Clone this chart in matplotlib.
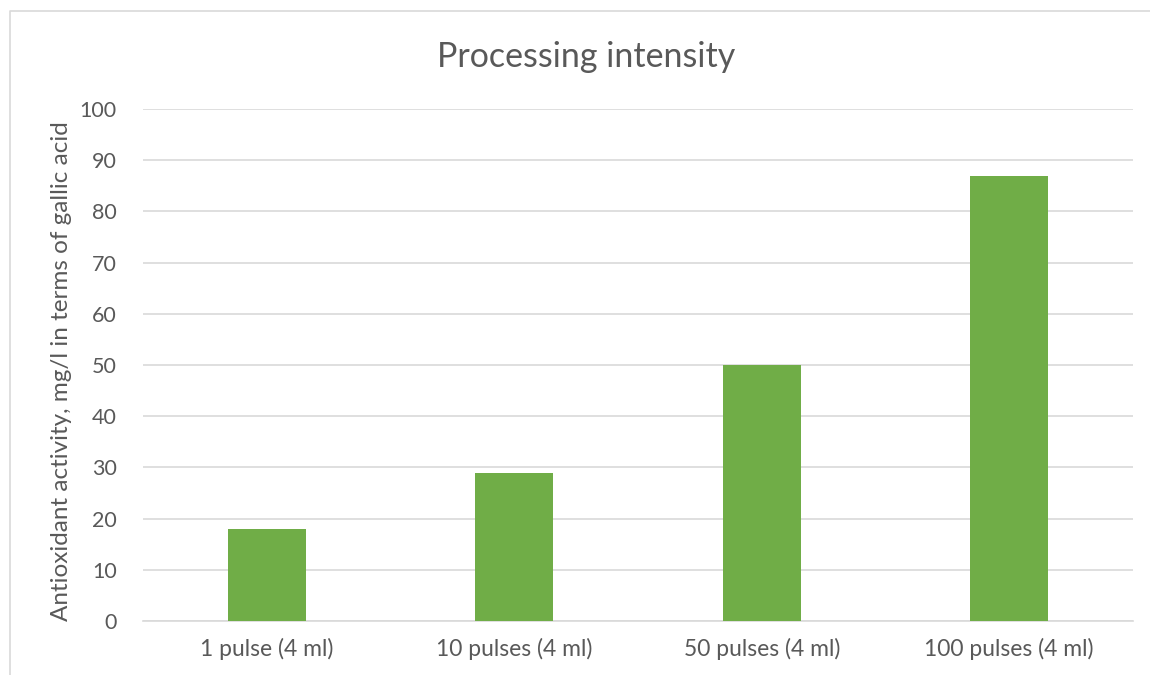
import matplotlib.pyplot as plt
from matplotlib.lines import Line2D

categories = ["1 pulse (4 ml)", "10 pulses (4 ml)", "50 pulses (4 ml)", "100 pulses (4 ml)"]
values = [18, 29, 50, 87]
y_ticks = [0, 10, 20, 30, 40, 50, 60, 70, 80, 90, 100]

plt.rcParams["font.family"] = ["Lato", "DejaVu Sans"]
text_color = "#595959"
grid_color = "#D9D9D9"

W, H = 1150, 675
fig = plt.figure(figsize=(W / 100, H / 100), dpi=100)
ax = fig.add_axes([143 / W, 1 - 621 / H, (1133 - 143) / W, (621 - 109) / H])

x = range(len(categories))
ax.bar(x, values, width=0.315, color="#70AD47", zorder=3)

ax.set_xlim(-0.5, len(categories) - 0.5)
ax.set_ylim(0, 100)
ax.set_yticks(y_ticks)
ax.set_xticks(list(x))
ax.set_xticklabels(categories)

ax.grid(axis="y", color=grid_color, linewidth=1.2, zorder=0)
for side in ["top", "right", "left"]:
    ax.spines[side].set_visible(False)
ax.spines["bottom"].set_color(grid_color)
ax.spines["bottom"].set_linewidth(1.2)
ax.tick_params(axis="both", length=0, colors=text_color)
ax.tick_params(axis="x", labelsize=16.5, pad=12)
ax.tick_params(axis="y", labelsize=15.5, pad=19)

fig.text(586 / W, 1 - 57 / H, "Processing intensity", ha="center", va="center",
         fontsize=24.5, color=text_color)
fig.text(62 / W, 1 - 371 / H, "Antioxidant activity, mg/l in terms of gallic acid",
         rotation=90, ha="center", va="center", fontsize=17.5, color=text_color)

# chart frame, only its top and left edges fall inside the canvas
fig.add_artist(Line2D([10 / W, 10 / W, 1], [0, 1 - 11 / H, 1 - 11 / H],
                      transform=fig.transFigure, color=grid_color, linewidth=1.2))

plt.savefig("out.png", dpi=100)
